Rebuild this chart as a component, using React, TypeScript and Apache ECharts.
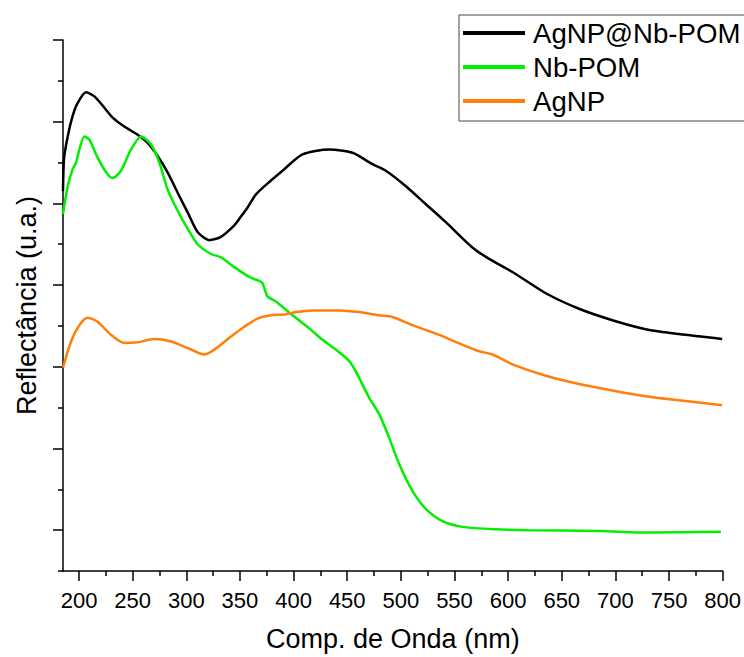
import React, { useEffect, useRef } from "react";
import * as echarts from "echarts";

// Wavelength (nm), reflectance (u.a.)
const agnpNbPom: [number, number][] = [
  [185, 4.15], [186, 4.55], [189.4, 4.82], [194.0, 5.07], [198.7, 5.23], [206.5, 5.36],
  [214.3, 5.31], [223.6, 5.17], [231.3, 5.05], [242.2, 4.94], [254.6, 4.84], [263.9, 4.74],
  [273.2, 4.58], [282.5, 4.38], [291.9, 4.13], [301.2, 3.89], [310.5, 3.65], [321.4, 3.55],
  [332.3, 3.59], [344.7, 3.73], [349.3, 3.81], [357.1, 3.95], [364.9, 4.11], [378.9, 4.28],
  [389.7, 4.40], [408.3, 4.60], [433.2, 4.66], [454.9, 4.62], [473.5, 4.48], [486.0, 4.40],
  [504.7, 4.21], [523.3, 3.99], [541.9, 3.77], [566.7, 3.46], [582.3, 3.32], [604.0, 3.16],
  [635.1, 2.90], [666.1, 2.71], [697.2, 2.57], [728.3, 2.46], [759.3, 2.40], [799.6, 2.34],
];

const nbPom: [number, number][] = [
  [185, 3.87], [189.4, 4.21], [194.0, 4.42], [197.2, 4.50], [200.3, 4.66], [204.9, 4.82],
  [209.6, 4.78], [217.3, 4.56], [225.2, 4.38], [231.3, 4.31], [239.1, 4.40], [248.4, 4.66],
  [257.8, 4.82], [267.1, 4.72], [274.8, 4.50], [282.5, 4.17], [291.9, 3.91], [301.2, 3.69],
  [310.5, 3.50], [323.0, 3.38], [332.3, 3.34], [344.7, 3.22], [358.7, 3.10], [368.0, 3.05],
  [371.1, 3.02], [375.7, 2.86], [383.5, 2.80], [399.0, 2.63], [414.6, 2.47], [427.0, 2.33],
  [439.4, 2.21], [451.9, 2.07], [458.1, 1.94], [470.5, 1.62], [479.8, 1.42], [489.1, 1.13],
  [498.4, 0.81], [510.8, 0.48], [523.3, 0.26], [538.8, 0.11], [557.4, 0.04], [588.5, 0.01],
  [619.5, 0.0], [684.8, -0.01], [731.3, -0.03], [798.4, -0.02],
];

const agnp: [number, number][] = [
  [185, 1.99], [192.5, 2.31], [200.3, 2.51], [208.0, 2.60], [217.3, 2.55], [229.8, 2.39],
  [242.2, 2.29], [254.6, 2.30], [270.2, 2.34], [285.7, 2.31], [301.2, 2.23], [316.7, 2.15],
  [326.1, 2.21], [341.6, 2.37], [354.0, 2.49], [366.4, 2.59], [378.9, 2.63], [391.3, 2.64],
  [402.2, 2.67], [417.6, 2.69], [442.5, 2.69], [461.2, 2.67], [479.8, 2.63], [492.2, 2.61],
  [510.8, 2.51], [535.7, 2.39], [557.4, 2.27], [573.0, 2.19], [585.4, 2.15], [604.0, 2.03],
  [635.1, 1.89], [666.1, 1.79], [697.2, 1.71], [728.3, 1.64], [759.3, 1.59], [799.6, 1.53],
];

const seriesNames = ["AgNP@Nb-POM", "Nb-POM", "AgNP"];
const xMajorTicks = [200, 250, 300, 350, 400, 450, 500, 550, 600, 650, 700, 750, 800];
const xMinorTicks = [225, 275, 325, 375, 425, 475, 525, 575, 625, 675, 725, 775];
const yMajorTicks = [0, 1, 2, 3, 4, 5, 6];
const yMinorTicks = [-0.5, 0.5, 1.5, 2.5, 3.5, 4.5, 5.5];

const FONT = "'Liberation Sans', Arial, Helvetica, sans-serif";

export default function App() {
  const ref = useRef<HTMLDivElement>(null);
  useEffect(() => {
    if (!ref.current) return;
    const chart = echarts.init(ref.current, undefined, { renderer: "svg" });
    const axisLineStyle = { color: "#000", width: 1.5 };
    chart.setOption({
      animation: false,
      backgroundColor: "#fff",
      textStyle: { fontFamily: FONT },
      grid: { left: 63, right: 20, top: 40, bottom: 83 },
      legend: {
        orient: "vertical",
        left: 459,
        top: 15,
        data: seriesNames,
        icon: "rect",
        itemWidth: 62,
        itemHeight: 4,
        itemGap: 4,
        padding: [3, 20, 5, 4],
        borderColor: "#444",
        borderWidth: 1,
        backgroundColor: "#fff",
        textStyle: { fontSize: 27.6, color: "#000", lineHeight: 30, fontFamily: FONT, padding: [0, 0, 0, 3] },
      },
      xAxis: [
        {
          type: "value",
          min: 185,
          max: 800,
          name: "Comp. de Onda (nm)",
          nameLocation: "middle",
          nameGap: 54,
          nameTextStyle: { fontSize: 27, color: "#000", fontFamily: FONT },
          axisLine: { show: true, onZero: false, lineStyle: axisLineStyle },
          axisTick: { show: true, length: 10, inside: false, customValues: xMajorTicks, lineStyle: axisLineStyle },
          axisLabel: { show: true, customValues: xMajorTicks, fontSize: 22, color: "#000", margin: 18, fontFamily: FONT },
          splitLine: { show: false },
        },
        {
          type: "value",
          min: 185,
          max: 800,
          position: "bottom",
          axisLine: { show: false, onZero: false },
          axisTick: { show: true, length: 5, customValues: xMinorTicks, lineStyle: axisLineStyle },
          axisLabel: { show: false },
          splitLine: { show: false },
        },
      ],
      yAxis: [
        {
          type: "value",
          min: -0.5,
          max: 6,
          name: "Reflectância (u.a.)",
          nameLocation: "middle",
          nameGap: 23,
          nameTextStyle: { fontSize: 27, color: "#000", fontFamily: FONT },
          axisLine: { show: true, onZero: false, lineStyle: axisLineStyle },
          axisTick: { show: true, length: 10, customValues: yMajorTicks, lineStyle: axisLineStyle },
          axisLabel: { show: false },
          splitLine: { show: false },
        },
        {
          type: "value",
          min: -0.5,
          max: 6,
          position: "left",
          axisLine: { show: false, onZero: false },
          axisTick: { show: true, length: 5, customValues: yMinorTicks, lineStyle: axisLineStyle },
          axisLabel: { show: false },
          splitLine: { show: false },
        },
      ],
      series: [
        {
          name: seriesNames[0],
          type: "line",
          data: agnpNbPom,
          showSymbol: false,
          smooth: 0.25,
          color: "#000000",
          lineStyle: { width: 2.5, color: "#000000" },
        },
        {
          name: seriesNames[1],
          type: "line",
          data: nbPom,
          showSymbol: false,
          smooth: 0.25,
          color: "#00f000",
          lineStyle: { width: 2.5, color: "#00f000" },
        },
        {
          name: seriesNames[2],
          type: "line",
          data: agnp,
          showSymbol: false,
          smooth: 0.25,
          color: "#ff7f0a",
          lineStyle: { width: 2.5, color: "#ff7f0a" },
        },
      ],
    });
    return () => chart.dispose();
  }, []);
  return (
    <div
      ref={ref}
      style={{ position: "fixed", left: 0, top: 0, width: 744, height: 657, background: "#fff" }}
    />
  );
}
